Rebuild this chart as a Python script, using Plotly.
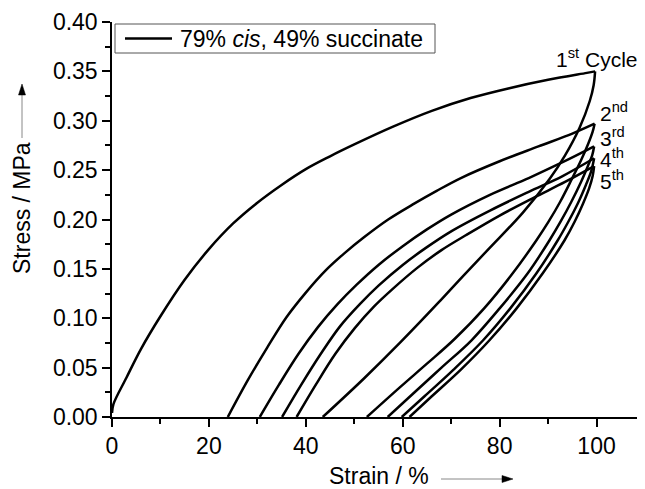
import plotly.graph_objects as go

# ---------------- data (strain %, stress MPa) ----------------
load1_strain = [0, 0.3, 3, 6, 10, 15, 20, 25, 30, 35, 40, 45, 50, 58, 66, 74, 82, 90, 98, 99.7]
load1_stress = [0.004, 0.013, 0.040, 0.069, 0.102, 0.139, 0.170, 0.196, 0.217, 0.235, 0.251, 0.264, 0.276, 0.294, 0.310, 0.323, 0.333, 0.3415, 0.3485, 0.350]

unload1_strain = [99.7, 99.4, 98.6, 96.5, 93.5, 90.3, 84.8, 77.9, 72.3, 67.4, 59.6, 52, 43.5]
unload1_stress = [0.350, 0.336, 0.320, 0.293, 0.265, 0.241, 0.207, 0.171, 0.142, 0.116, 0.076, 0.039, 0.0]

load2_strain = [23.9, 28, 32, 36, 40, 44, 48, 52, 57, 62, 67, 72, 80, 88, 95, 99.6]
load2_stress = [0.0, 0.037, 0.070, 0.101, 0.126, 0.148, 0.166, 0.182, 0.200, 0.215, 0.229, 0.242, 0.259, 0.274, 0.287, 0.297]

unload2_strain = [99.6, 99.2, 98.3, 96.8, 94.8, 92.5, 90, 87.6, 82.7, 76.8, 70.7, 65, 59.4, 52.6]
unload2_stress = [0.297, 0.289, 0.277, 0.260, 0.240, 0.218, 0.197, 0.179, 0.1455, 0.110, 0.079, 0.054, 0.030, 0.0]

load3_strain = [30.5, 34.5, 38.5, 42.5, 46.5, 50.5, 55, 60, 65, 70, 78, 86, 93, 99.5]
load3_stress = [0.0, 0.033, 0.064, 0.091, 0.114, 0.134, 0.154, 0.173, 0.190, 0.205, 0.225, 0.242, 0.258, 0.274]

unload3_strain = [99.5, 99.1, 98.2, 96.7, 94.8, 92.6, 90.3, 85.8, 80, 74.2, 68, 62, 56.9]
unload3_stress = [0.274, 0.265, 0.254, 0.237, 0.218, 0.198, 0.179, 0.1455, 0.110, 0.0777, 0.050, 0.023, 0.0]

load4_strain = [35.1, 39.1, 43.1, 47.1, 51.1, 55, 60, 65, 70, 78, 86, 93, 99.5]
load4_stress = [0.0, 0.033, 0.064, 0.092, 0.114, 0.133, 0.154, 0.172, 0.188, 0.209, 0.228, 0.244, 0.262]

unload4_strain = [99.5, 98.9, 97.8, 96.2, 94.2, 92.0, 87.6, 82.2, 76.6, 70.5, 64.5, 59.8]
unload4_stress = [0.262, 0.249, 0.235, 0.217, 0.198, 0.179, 0.1455, 0.110, 0.0777, 0.048, 0.021, 0.0]

load5_strain = [38.1, 42.1, 46.1, 50.1, 54.1, 58, 63, 68, 73, 80, 87, 93.5, 99.5]
load5_stress = [0.0, 0.033, 0.064, 0.090, 0.112, 0.130, 0.151, 0.169, 0.184, 0.204, 0.222, 0.238, 0.254]

unload5_strain = [99.5, 99.2, 98.5, 97.2, 95.5, 93.4, 88.9, 83.5, 77.9, 72, 66, 61.4]
unload5_stress = [0.254, 0.244, 0.232, 0.216, 0.198, 0.179, 0.1455, 0.110, 0.0777, 0.048, 0.021, 0.0]

series_name = "79% <i>cis</i>, 49% succinate"
cycle_labels = ["1<sup>st</sup> Cycle", "2<sup>nd</sup>", "3<sup>rd</sup>", "4<sup>th</sup>", "5<sup>th</sup>"]
cycle_label_x = [91.2, 100.4, 100.4, 100.4, 100.4]
cycle_label_y = [0.364, 0.309, 0.284, 0.262, 0.240]

x_ticks = [0, 20, 40, 60, 80, 100]
y_ticks = [0.00, 0.05, 0.10, 0.15, 0.20, 0.25, 0.30, 0.35, 0.40]

# ---------------- figure ----------------
FONT = "Liberation Sans, Arial, sans-serif"
FS = 23
segments = [
    (load1_strain, load1_stress), (unload1_strain, unload1_stress),
    (load2_strain, load2_stress), (unload2_strain, unload2_stress),
    (load3_strain, load3_stress), (unload3_strain, unload3_stress),
    (load4_strain, load4_stress), (unload4_strain, unload4_stress),
    (load5_strain, load5_stress), (unload5_strain, unload5_stress),
]
xs, ys = [], []
for sx, sy in segments:
    xs += list(sx) + [None]
    ys += list(sy) + [None]

fig = go.Figure()
fig.add_trace(go.Scatter(
    x=xs, y=ys, mode="lines", name=series_name, connectgaps=False,
    line=dict(color="black", width=2.5, shape="spline", smoothing=1.0),
    showlegend=False,
))

# the page body has an 8px margin, so the figure is 8px smaller than the window
W, H = 637, 481
L, R, T, B = 104, 0, 14, 72
pw, ph = W - L - R, H - T - B   # 533 x 395 ; plot spans window x 112..645, y 22..417

def px(xw):      # window pixel x -> paper
    return (xw - 112) / pw

def py(yw):      # window pixel y -> paper
    return (417 - yw) / ph

axis_common = dict(
    showline=True, linecolor="black", linewidth=1.5,
    ticks="outside", ticklen=8, tickwidth=1.5, tickcolor="black",
    showgrid=False, zeroline=False,
    tickfont=dict(family=FONT, size=FS, color="black"),
)

fig.update_layout(
    width=W, height=H,
    margin=dict(l=L, r=R, t=T, b=B, pad=0),
    paper_bgcolor="white", plot_bgcolor="white",
    font=dict(family=FONT, size=FS, color="black"),
    xaxis=dict(range=[0, 110], tickvals=x_ticks, ticktext=[str(v) for v in x_ticks],
               minor=dict(dtick=10, tick0=0, ticks="outside", ticklen=5, tickwidth=1.5,
                          tickcolor="black", showgrid=False),
               **axis_common),
    yaxis=dict(range=[0, 0.40], tickvals=y_ticks, ticktext=[f"{v:.2f}" for v in y_ticks],
               minor=dict(dtick=0.025, tick0=0, ticks="outside", ticklen=5, tickwidth=1.5,
                          tickcolor="black", showgrid=False),
               **axis_common),
    showlegend=False,
)

annotations = []
for txt, lx, ly in zip(cycle_labels, cycle_label_x, cycle_label_y):
    annotations.append(dict(x=lx, y=ly, xref="x", yref="y", text=txt, showarrow=False,
                            xanchor="left", yanchor="middle",
                            font=dict(family=FONT, size=21, color="black")))

# legend (box, line sample, text)
annotations.append(dict(x=px(178), y=py(38.5), xref="paper", yref="paper", text=series_name,
                        showarrow=False, xanchor="left", yanchor="middle",
                        font=dict(family=FONT, size=FS, color="black")))
# axis titles
annotations.append(dict(x=0.5, y=py(476), xref="paper", yref="paper", text="Strain / %",
                        showarrow=False, xanchor="center", yanchor="middle",
                        font=dict(family=FONT, size=FS, color="black")))
annotations.append(dict(x=px(22), y=py(208), xref="paper", yref="paper", text="Stress / MPa",
                        showarrow=False, xanchor="center", yanchor="middle", textangle=-90,
                        font=dict(family=FONT, size=FS, color="black")))
fig.update_layout(annotations=annotations)

shapes = [
    # legend box and sample line
    dict(type="rect", xref="paper", yref="paper", x0=px(115), x1=px(435), y0=py(53), y1=py(24),
         line=dict(color="#555555", width=1), fillcolor="white", layer="above"),
    dict(type="line", xref="paper", yref="paper", x0=px(125), x1=px(172), y0=py(38.5), y1=py(38.5),
         line=dict(color="black", width=2.5), layer="above"),
    # x-title arrow
    dict(type="line", xref="paper", yref="paper", x0=px(441), x1=px(503), y0=py(479), y1=py(479),
         line=dict(color="#888888", width=1)),
    dict(type="path", xref="paper", yref="paper",
         path=f"M {px(513)} {py(479)} L {px(502)} {py(475.5)} L {px(502)} {py(482.5)} Z",
         fillcolor="black", line=dict(color="black", width=0.5)),
    # y-title arrow
    dict(type="line", xref="paper", yref="paper", x0=px(22), x1=px(22), y0=py(138), y1=py(94),
         line=dict(color="#888888", width=1)),
    dict(type="path", xref="paper", yref="paper",
         path=f"M {px(22)} {py(84)} L {px(18.5)} {py(95)} L {px(25.5)} {py(95)} Z",
         fillcolor="black", line=dict(color="black", width=0.5)),
]
fig.update_layout(shapes=shapes)

fig.write_html("out.html")
